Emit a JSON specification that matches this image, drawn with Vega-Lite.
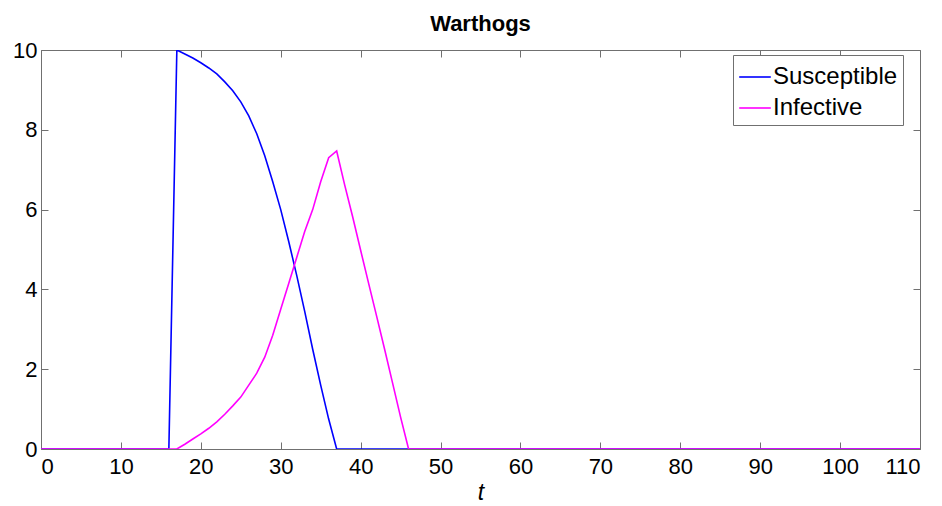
{
  "$schema": "https://vega.github.io/schema/vega-lite/v6.json",
  "width": 879,
  "height": 399,
  "autosize": "none",
  "padding": {"left": 41, "top": 50, "right": 22, "bottom": 57},
  "background": "white",
  "config": {
    "view": {"stroke": "#707070", "strokeWidth": 1},
    "font": "Liberation Sans"
  },
  "title": {
    "text": "Warthogs",
    "font": "Liberation Sans",
    "fontSize": 22,
    "fontWeight": "bold",
    "color": "black",
    "anchor": "middle",
    "offset": 3
  },
  "data": {
    "values": [
      {"t": 0, "value": 0, "series": "Susceptible"},
      {"t": 16, "value": 0, "series": "Susceptible"},
      {"t": 17, "value": 10, "series": "Susceptible"},
      {"t": 18, "value": 9.9, "series": "Susceptible"},
      {"t": 19, "value": 9.8, "series": "Susceptible"},
      {"t": 20, "value": 9.68, "series": "Susceptible"},
      {"t": 21, "value": 9.55, "series": "Susceptible"},
      {"t": 22, "value": 9.4, "series": "Susceptible"},
      {"t": 23, "value": 9.2, "series": "Susceptible"},
      {"t": 24, "value": 8.98, "series": "Susceptible"},
      {"t": 25, "value": 8.7, "series": "Susceptible"},
      {"t": 26, "value": 8.35, "series": "Susceptible"},
      {"t": 27, "value": 7.9, "series": "Susceptible"},
      {"t": 28, "value": 7.35, "series": "Susceptible"},
      {"t": 29, "value": 6.7, "series": "Susceptible"},
      {"t": 30, "value": 6.0, "series": "Susceptible"},
      {"t": 31, "value": 5.2, "series": "Susceptible"},
      {"t": 32, "value": 4.35, "series": "Susceptible"},
      {"t": 33, "value": 3.45, "series": "Susceptible"},
      {"t": 34, "value": 2.5, "series": "Susceptible"},
      {"t": 35, "value": 1.6, "series": "Susceptible"},
      {"t": 36, "value": 0.75, "series": "Susceptible"},
      {"t": 37, "value": 0, "series": "Susceptible"},
      {"t": 110, "value": 0, "series": "Susceptible"},
      {"t": 0, "value": 0, "series": "Infective"},
      {"t": 17, "value": 0, "series": "Infective"},
      {"t": 18, "value": 0.12, "series": "Infective"},
      {"t": 19, "value": 0.25, "series": "Infective"},
      {"t": 20, "value": 0.38, "series": "Infective"},
      {"t": 21, "value": 0.52, "series": "Infective"},
      {"t": 22, "value": 0.68, "series": "Infective"},
      {"t": 23, "value": 0.87, "series": "Infective"},
      {"t": 24, "value": 1.08, "series": "Infective"},
      {"t": 25, "value": 1.3, "series": "Infective"},
      {"t": 26, "value": 1.6, "series": "Infective"},
      {"t": 27, "value": 1.9, "series": "Infective"},
      {"t": 28, "value": 2.3, "series": "Infective"},
      {"t": 29, "value": 2.85, "series": "Infective"},
      {"t": 30, "value": 3.5, "series": "Infective"},
      {"t": 31, "value": 4.15, "series": "Infective"},
      {"t": 32, "value": 4.8, "series": "Infective"},
      {"t": 33, "value": 5.45, "series": "Infective"},
      {"t": 34, "value": 6.0, "series": "Infective"},
      {"t": 35, "value": 6.7, "series": "Infective"},
      {"t": 36, "value": 7.3, "series": "Infective"},
      {"t": 37, "value": 7.47, "series": "Infective"},
      {"t": 38, "value": 6.62, "series": "Infective"},
      {"t": 39, "value": 5.82, "series": "Infective"},
      {"t": 40, "value": 4.98, "series": "Infective"},
      {"t": 41, "value": 4.15, "series": "Infective"},
      {"t": 42, "value": 3.33, "series": "Infective"},
      {"t": 43, "value": 2.5, "series": "Infective"},
      {"t": 44, "value": 1.65, "series": "Infective"},
      {"t": 45, "value": 0.8, "series": "Infective"},
      {"t": 46, "value": 0, "series": "Infective"},
      {"t": 110, "value": 0, "series": "Infective"}
    ]
  },
  "layer": [
    {
      "transform": [{"filter": "datum.series === 'Susceptible'"}],
      "mark": {"type": "line", "strokeWidth": 1.6, "clip": true},
      "encoding": {
        "x": {
          "field": "t", "type": "quantitative",
          "scale": {"domain": [0, 110], "nice": false, "zero": false},
          "axis": {
            "orient": "bottom", "values": [0,10,20,30,40,50,60,70,80,90,100,110],
            "grid": false, "domain": false, "tickColor": "#707070", "tickSize": -7,
            "labelPadding": 14, "labelFont": "Liberation Sans", "labelFontSize": 22,
            "labelColor": "black", "title": "t", "titleFont": "Liberation Sans",
            "titleFontStyle": "italic", "titleFontWeight": "normal", "titleFontSize": 23,
            "titleColor": "black", "titlePadding": 4
          }
        },
        "y": {
          "field": "value", "type": "quantitative",
          "scale": {"domain": [0, 10], "nice": false},
          "axis": {
            "orient": "left", "values": [0,2,4,6,8,10],
            "grid": false, "domain": false, "tickColor": "#707070", "tickSize": -7,
            "labelPadding": 11, "labelFont": "Liberation Sans", "labelFontSize": 22,
            "labelColor": "black", "title": null
          }
        },
        "color": {
          "field": "series", "type": "nominal",
          "scale": {"domain": ["Susceptible", "Infective"], "range": ["#0000ff", "#ff00ff"]},
          "legend": {
            "orient": "none", "legendX": 692, "legendY": 5, "title": null,
            "symbolType": "stroke", "symbolSize": 1000, "symbolStrokeWidth": 1.6,
            "labelFont": "Liberation Sans", "labelFontSize": 24, "labelColor": "black",
            "labelOffset": 1, "rowPadding": 2,
            "strokeColor": "#707070", "padding": 5, "fillColor": "white",
            "symbolOffset": 0
          }
        }
      }
    },
    {
      "transform": [{"filter": "datum.series === 'Infective'"}],
      "mark": {"type": "line", "strokeWidth": 1.6, "clip": true},
      "encoding": {
        "x": {"field": "t", "type": "quantitative", "axis": null},
        "y": {"field": "value", "type": "quantitative", "axis": null},
        "color": {"field": "series", "type": "nominal"}
      }
    },
    {
      "mark": {"type": "line", "strokeOpacity": 0},
      "encoding": {
        "x": {
          "field": "t", "type": "quantitative",
          "axis": {
            "orient": "top", "values": [0,10,20,30,40,50,60,70,80,90,100,110],
            "grid": false, "domain": false, "labels": false, "tickColor": "#707070",
            "tickSize": -7, "title": null
          }
        },
        "y": {
          "field": "value", "type": "quantitative",
          "axis": {
            "orient": "right", "values": [0,2,4,6,8,10],
            "grid": false, "domain": false, "labels": false, "tickColor": "#707070",
            "tickSize": -7, "title": null
          }
        },
        "detail": {"field": "series"}
      }
    }
  ],
  "resolve": {"axis": {"x": "independent", "y": "independent"}}
}
